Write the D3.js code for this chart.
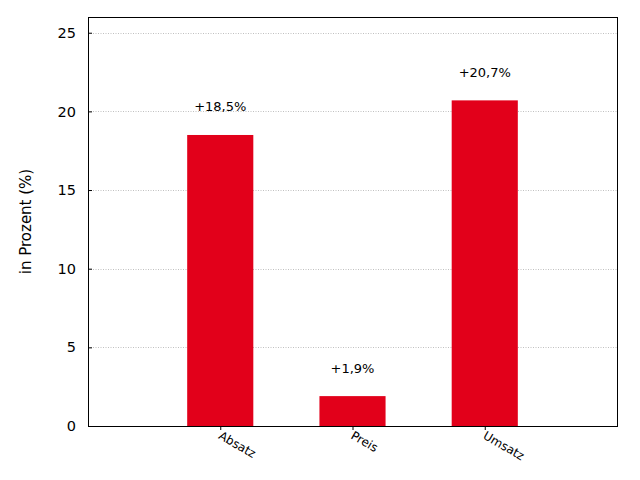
<!DOCTYPE html>
<html><head><meta charset="utf-8">
<script src="https://cdn.jsdelivr.net/npm/d3@7"></script>
<style>body{margin:0;background:#fff}svg{display:block}text{font-family:"DejaVu Sans",sans-serif}</style>
</head><body>
<script>
const categories = ["Absatz", "Preis", "Umsatz"];
const values = [18.5, 1.9, 20.7];
const labels = ["+18,5%", "+1,9%", "+20,7%"];
const yTicks = [0, 5, 10, 15, 20, 25];

const W = 640, H = 480;
const m = {l: 88, r: 23, t: 17, b: 54};
const svg = d3.select("body").append("svg").attr("width", W).attr("height", H);
const x = d3.scaleLinear().domain([0, 4]).range([m.l, W - m.r]);
const y = d3.scaleLinear().domain([0, 26]).range([H - m.b, m.t]);
const bw = (x(1) - x(0)) * 0.5;

// grid
svg.append("g").selectAll("line").data(yTicks.filter(d => d > 0)).join("line")
  .attr("x1", m.l).attr("x2", W - m.r)
  .attr("y1", d => Math.round(y(d)) + 0.5).attr("y2", d => Math.round(y(d)) + 0.5)
  .attr("stroke", "#b0b0b0").attr("stroke-width", 0.8).attr("stroke-dasharray", "1,1.5");

// bars
svg.append("g").selectAll("rect").data(values).join("rect")
  .attr("x", (d, i) => x(i + 1) - bw / 2).attr("width", bw)
  .attr("y", d => y(d)).attr("height", d => y(0) - y(d))
  .attr("fill", "#e2001a");

// value labels
svg.append("g").selectAll("text").data(values).join("text")
  .attr("x", (d, i) => x(i + 1)).attr("y", d => y(d + 1.5))
  .attr("text-anchor", "middle").attr("font-size", 13).attr("fill", "#000")
  .text((d, i) => labels[i]);

// y axis
const ya = svg.append("g").attr("transform", `translate(${m.l},0)`)
  .call(d3.axisLeft(y).tickValues(yTicks).tickSize(-4).tickPadding(12).tickFormat(d3.format("d")));
ya.select(".domain").remove();
ya.selectAll("text").attr("font-size", 14.5).attr("font-family", "DejaVu Sans").attr("fill", "#000");
ya.selectAll("line").attr("stroke", "#000");

// x axis
const xa = svg.append("g").attr("transform", `translate(0,${H - m.b})`)
  .call(d3.axisBottom(x).tickValues([1, 2, 3]).tickSize(4).tickFormat((d) => categories[d - 1]));
xa.select(".domain").remove();
xa.selectAll("line").attr("stroke", "#000");
xa.selectAll("text").attr("font-size", 12).attr("font-family", "DejaVu Sans").attr("fill", "#000")
  .attr("text-anchor", "start").attr("dy", null).attr("y", 0)
  .attr("transform", "translate(-3,12) rotate(30)");

// frame
svg.append("rect").attr("x", m.l + 0.5).attr("y", m.t + 0.5)
  .attr("width", W - m.r - m.l).attr("height", H - m.b - m.t)
  .attr("fill", "none").attr("stroke", "#000").attr("stroke-width", 1);

// y label
svg.append("text").attr("transform", `translate(31,${(m.t + H - m.b) / 2}) rotate(-90)`)
  .attr("text-anchor", "middle").attr("font-size", 15).text("in Prozent (%)");
</script>
</body></html>
